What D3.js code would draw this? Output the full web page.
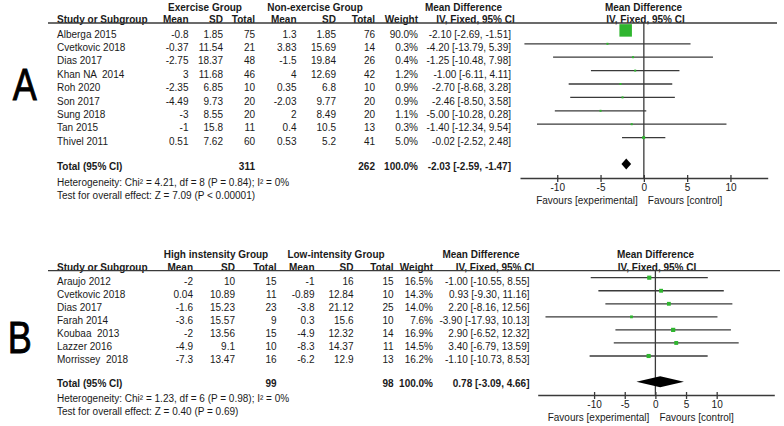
<!DOCTYPE html>
<html><head><meta charset="utf-8">
<script src="https://cdn.jsdelivr.net/npm/d3@7"></script>
<style>
body{margin:0;background:#fff;}
text{font-family:"Liberation Sans",Arial,sans-serif;fill:#1a1a1a;white-space:pre;}
</style></head>
<body><svg id="c" width="784" height="426"></svg>
<script>
// ---------- Panel A data ----------
const studiesA = ["Alberga 2015","Cvetkovic 2018","Dias 2017","Khan NA  2014","Roh 2020","Son 2017","Sung 2018","Tan 2015","Thivel 2011"];
const exMeanA = [-0.8,-0.37,-2.75,3,-2.35,-4.49,-3,-1,0.51];
const exSDA = [1.85,11.54,18.37,11.68,6.85,9.73,8.55,15.8,7.62];
const exNA = [75,21,48,46,10,20,20,11,60];
const nonMeanA = [1.3,3.83,-1.5,4,0.35,-2.03,2,0.4,0.53];
const nonSDA = [1.85,15.69,19.84,12.69,6.8,9.77,8.49,10.5,5.2];
const nonNA = [76,14,26,42,10,20,20,13,41];
const weightA = [90.0,0.3,0.4,1.2,0.9,0.9,1.1,0.3,5.0];
const mdA = [-2.10,-4.20,-1.25,-1.00,-2.70,-2.46,-5.00,-1.40,-0.02];
const loA = [-2.69,-13.79,-10.48,-6.11,-8.68,-8.50,-10.28,-12.34,-2.52];
const hiA = [-1.51,5.39,7.98,4.11,3.28,3.58,0.28,9.54,2.48];
const totalA = {n1:311,n2:262,md:-2.03,lo:-2.59,hi:-1.47};
const groupsA = ["Exercise Group","Non-exercise Group"];
const hetA = "Heterogeneity: Chi\u00B2 = 4.21, df = 8 (P = 0.84); I\u00B2 = 0%";
const testA = "Test for overall effect: Z = 7.09 (P < 0.00001)";

// ---------- Panel B data ----------
const studiesB = ["Araujo 2012","Cvetkovic 2018","Dias 2017","Farah 2014","Koubaa  2013","Lazzer 2016","Morrissey  2018"];
const hiMeanB = [-2,0.04,-1.6,-3.6,-2,-4.9,-7.3];
const hiSDB = [10,10.89,15.23,15.57,13.56,9.1,13.47];
const hiNB = [15,11,23,9,15,10,16];
const loMeanB = [-1,-0.89,-3.8,0.3,-4.9,-8.3,-6.2];
const loSDB = [16,12.84,21.12,15.6,12.32,14.37,12.9];
const loNB = [15,10,25,10,14,11,13];
const weightB = [16.5,14.3,14.0,7.6,16.9,14.5,16.2];
const mdB = [-1.00,0.93,2.20,-3.90,2.90,3.40,-1.10];
const ciLoB = [-10.55,-9.30,-8.16,-17.93,-6.52,-6.79,-10.73];
const ciHiB = [8.55,11.16,12.56,10.13,12.32,13.59,8.53];
const totalB = {n1:99,n2:98,md:0.78,lo:-3.09,hi:4.66};
const groupsB = ["High instensity Group","Low-intensity Group"];
const hetB = "Heterogeneity: Chi\u00B2 = 1.23, df = 6 (P = 0.98); I\u00B2 = 0%";
const testB = "Test for overall effect: Z = 0.40 (P = 0.69)";

const tickVals = [-10,-5,0,5,10];
const favours = ["Favours [experimental]","Favours [control]"];

const svg = d3.select("#c");
const FS = 10;
const lineCol = "#3a3a3a";
const green = "#2fb52f";

function fmtCI(m,l,h){return m.toFixed(2)+" ["+l.toFixed(2)+", "+h.toFixed(2)+"]";}

function drawPanel(p){
  const g = svg.append("g");
  const t = (x,y,s,anchor,bold,size)=>g.append("text").attr("x",x).attr("y",y).attr("dy","0.35em")
     .attr("text-anchor",anchor||"start").attr("font-weight",bold?"bold":"normal")
     .attr("font-size",size||FS).text(s);
  const L = p.layout;
  // big letter
  g.append("text").attr("transform",`translate(${L.letterX},${L.letterY}) scale(0.8,1)`)
    .attr("text-anchor","middle").attr("font-size",45)
    .style("fill","#000").style("stroke","#000").style("stroke-width",0.9).text(p.letter);
  // headers
  t(L.g1c,L.h1,p.groups[0],"middle",true);
  t(L.g2c,L.h1,p.groups[1],"middle",true);
  t(L.mdHc,L.h1,"Mean Difference","middle",true);
  t(L.plotHc,L.h1,"Mean Difference","middle",true);
  t(L.study,L.h2,"Study or Subgroup","start",true);
  t(L.m1,L.h2,"Mean","end",true); t(L.s1,L.h2,"SD","end",true); t(L.n1,L.h2,"Total","end",true);
  t(L.m2,L.h2,"Mean","end",true); t(L.s2,L.h2,"SD","end",true); t(L.n2,L.h2,"Total","end",true);
  t(L.w,L.h2,"Weight","end",true);
  t(L.ciHc,L.h2,"IV, Fixed, 95% CI","middle",true);
  t(L.plotH2c,L.h2,"IV, Fixed, 95% CI","middle",true);
  g.append("line").attr("x1",L.hlX1).attr("x2",L.hlX2).attr("y1",L.hl).attr("y2",L.hl)
    .attr("stroke",lineCol).attr("stroke-width",1.3);

  const x = d3.scaleLinear().domain(p.domain).range(L.plotRange);
  const yc = i=>L.row0 + i*L.step;
  const sz = d3.scaleSqrt().domain([0,d3.max(p.weight)]).range([0,L.maxBox]);

  // zero line
  g.append("line").attr("x1",x(0)).attr("x2",x(0)).attr("y1",L.hl).attr("y2",L.axisY)
    .attr("stroke",lineCol).attr("stroke-width",1.3);

  p.studies.forEach((s,i)=>{
    const y = yc(i);
    t(L.study,y,s);
    t(L.m1,y,String(p.m1[i]),"end"); t(L.s1,y,String(p.s1[i]),"end"); t(L.n1,y,String(p.n1[i]),"end");
    t(L.m2,y,String(p.m2[i]),"end"); t(L.s2,y,String(p.s2[i]),"end"); t(L.n2,y,String(p.n2[i]),"end");
    t(L.w,y,p.weight[i].toFixed(1)+"%","end");
    t(L.ci,y,fmtCI(p.md[i],p.lo[i],p.hi[i]),"end");
    const ly = y - L.lineOff;
    g.append("line").attr("x1",x(p.lo[i])).attr("x2",x(p.hi[i])).attr("y1",ly).attr("y2",ly)
      .attr("stroke",lineCol).attr("stroke-width",1.3);
    const b = Math.max(L.minBox, sz(p.weight[i]));
    g.append("rect").attr("x",x(p.md[i])-b/2).attr("y",ly-b/2).attr("width",b).attr("height",b)
      .attr("fill",green);
  });
  // total
  const T = p.total;
  t(L.study,L.totY,"Total (95% CI)","start",true);
  t(L.n1,L.totY,String(T.n1),"end",true);
  t(L.n2,L.totY,String(T.n2),"end",true);
  t(L.w,L.totY,"100.0%","end",true);
  t(L.ci,L.totY,fmtCI(T.md,T.lo,T.hi),"end",true);
  const dy = L.diaY, dh = L.diaH/2;
  g.append("path").attr("d",`M${x(T.lo)},${dy}L${x(T.md)},${dy-dh}L${x(T.hi)},${dy}L${x(T.md)},${dy+dh}Z`)
    .attr("fill","#000");
  t(L.study,L.hetY,p.het);
  t(L.study,L.testY,p.test);

  // axis
  const ax = g.append("g").attr("transform",`translate(0,${L.axisY})`)
    .call(d3.axisBottom(x).tickValues(tickVals).tickSizeOuter(0).tickSizeInner(4).tickPadding(2)
      .tickFormat(d=>String(d)));
  ax.select(".domain").attr("stroke",lineCol).attr("stroke-width",1.3);
  ax.selectAll(".tick line").attr("y1",-3).attr("y2",4).attr("stroke",lineCol).attr("stroke-width",1.3);
  ax.selectAll(".tick text").attr("font-size",FS).attr("font-family","Liberation Sans,Arial,sans-serif")
    .style("fill","#1a1a1a");
  t(x(0)-6,L.favY,favours[0],"end",false,FS);
  t(x(0)+4,L.favY,favours[1],"start",false,FS);
}

drawPanel({
  letter:"A", groups:groupsA, studies:studiesA,
  m1:exMeanA,s1:exSDA,n1:exNA,m2:nonMeanA,s2:nonSDA,n2:nonNA,
  weight:weightA, md:mdA, lo:loA, hi:hiA, total:totalA, het:hetA, test:testA,
  domain:[-14.3,14.3],
  layout:{letterX:24.7,letterY:99.5,g1c:205,g2c:315,mdHc:463.5,plotHc:643.5,plotH2c:645.5,
    study:57,m1:188.5,s1:223,n1:255,m2:296.5,s2:336,n2:375,w:418,ci:511,ciHc:475.5,
    h1:7,h2:19.5,hl:23,hlX1:48,hlX2:777,plotRange:[520,767.7],
    row0:34,step:13.4,lineOff:3.6,maxBox:12.5,minBox:2,
    totY:166,diaY:164,diaH:11,hetY:182,testY:195.5,axisY:178,favY:200}
});
drawPanel({
  letter:"B", groups:groupsB, studies:studiesB,
  m1:hiMeanB,s1:hiSDB,n1:hiNB,m2:loMeanB,s2:loSDB,n2:loNB,
  weight:weightB, md:mdB, lo:ciLoB, hi:ciHiB, total:totalB, het:hetB, test:testB,
  domain:[-19.2,19.4],
  layout:{letterX:19.7,letterY:352.5,g1c:216,g2c:336,mdHc:481,plotHc:655.5,plotH2c:657,
    study:57,m1:193,s1:235,n1:276.5,m2:314.5,s2:353.5,n2:393.5,w:433,ci:529.5,ciHc:495,
    h1:254,h2:267.3,hl:270.7,hlX1:48,hlX2:780,plotRange:[537.7,774.3],
    row0:281,step:13.05,lineOff:3.3,maxBox:4.2,minBox:2,
    totY:383.7,diaY:381.7,diaH:11,hetY:398,testY:411,axisY:395,favY:417.8}
});
</script></body></html>
